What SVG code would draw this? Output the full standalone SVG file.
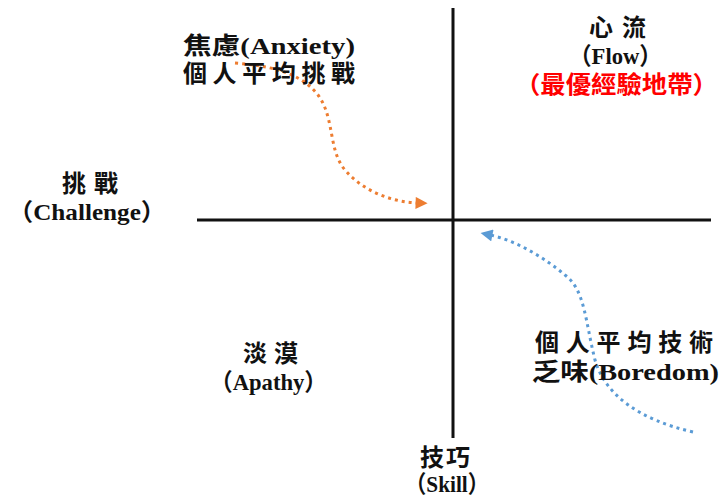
<svg xmlns="http://www.w3.org/2000/svg" width="722" height="497" viewBox="0 0 722 497">
<defs>
<style>
.t{font-family:"Liberation Serif","Noto Sans CJK TC",serif;font-weight:bold;font-size:24px;fill:#111;}
.red{fill:#ff0000;}
.axis{stroke:#111;stroke-width:3;fill:none;}
.or{stroke:#ED7D31;stroke-width:3;stroke-dasharray:3 4;fill:none;}
.bl{stroke:#5B9BD5;stroke-width:3;stroke-dasharray:3 4;fill:none;}
</style>
<marker id="ao" viewBox="0 0 10 10" refX="2" refY="5" markerWidth="14" markerHeight="12" markerUnits="userSpaceOnUse" orient="auto"><path d="M0,0 L10,5 L0,10 Z" fill="#ED7D31"/></marker>
<marker id="ab" viewBox="0 0 10 10" refX="2" refY="5" markerWidth="14" markerHeight="12" markerUnits="userSpaceOnUse" orient="auto"><path d="M0,0 L10,5 L0,10 Z" fill="#5B9BD5"/></marker>
</defs>
<rect width="722" height="497" fill="#fff"/>
<g id="axes">
<line class="axis" x1="197" y1="220" x2="711" y2="220"/>
<line class="axis" x1="453" y1="8" x2="453" y2="438"/>
</g>
<g id="connectors">
<path class="or" d="M235,63 C270,66 300,72 318,95 C335,118 328,150 345,170 C362,190 390,202 418,203" marker-end="url(#ao)"/>
<path class="bl" d="M693,432 C640,420 605,395 595,360 C585,320 585,290 565,275 C545,258 515,240 490,235" marker-end="url(#ab)"/>
</g>
<g id="anxiety">
<text class="t" x="183" y="54" textLength="172" lengthAdjust="spacingAndGlyphs">焦慮(Anxiety)</text>
<text class="t" x="183" y="82" textLength="172" lengthAdjust="spacing">個人平均挑戰</text>
</g>
<g id="flow">
<text class="t" x="589" y="36" textLength="57" lengthAdjust="spacing">心流</text>
<text class="t" x="569" y="64" textLength="93" lengthAdjust="spacingAndGlyphs">（Flow）</text>
<text class="t red" x="515" y="93" textLength="203" lengthAdjust="spacingAndGlyphs">（最優經驗地帶）</text>
</g>
<g id="challenge">
<text class="t" x="62" y="192" textLength="56" lengthAdjust="spacing">挑戰</text>
<text class="t" x="8" y="220" textLength="158" lengthAdjust="spacingAndGlyphs">（Challenge）</text>
</g>
<g id="apathy">
<text class="t" x="243" y="362" textLength="55" lengthAdjust="spacing">淡漠</text>
<text class="t" x="210" y="390" textLength="117" lengthAdjust="spacingAndGlyphs">（Apathy）</text>
</g>
<g id="skill">
<text class="t" x="420" y="466" textLength="50" lengthAdjust="spacing">技巧</text>
<text class="t" x="405" y="492" textLength="84" lengthAdjust="spacingAndGlyphs">（Skill）</text>
</g>
<g id="boredom">
<text class="t" x="535" y="351" textLength="178" lengthAdjust="spacing">個人平均技術</text>
<text class="t" x="532" y="380" textLength="187" lengthAdjust="spacingAndGlyphs">乏味(Boredom)</text>
</g>
</svg>
